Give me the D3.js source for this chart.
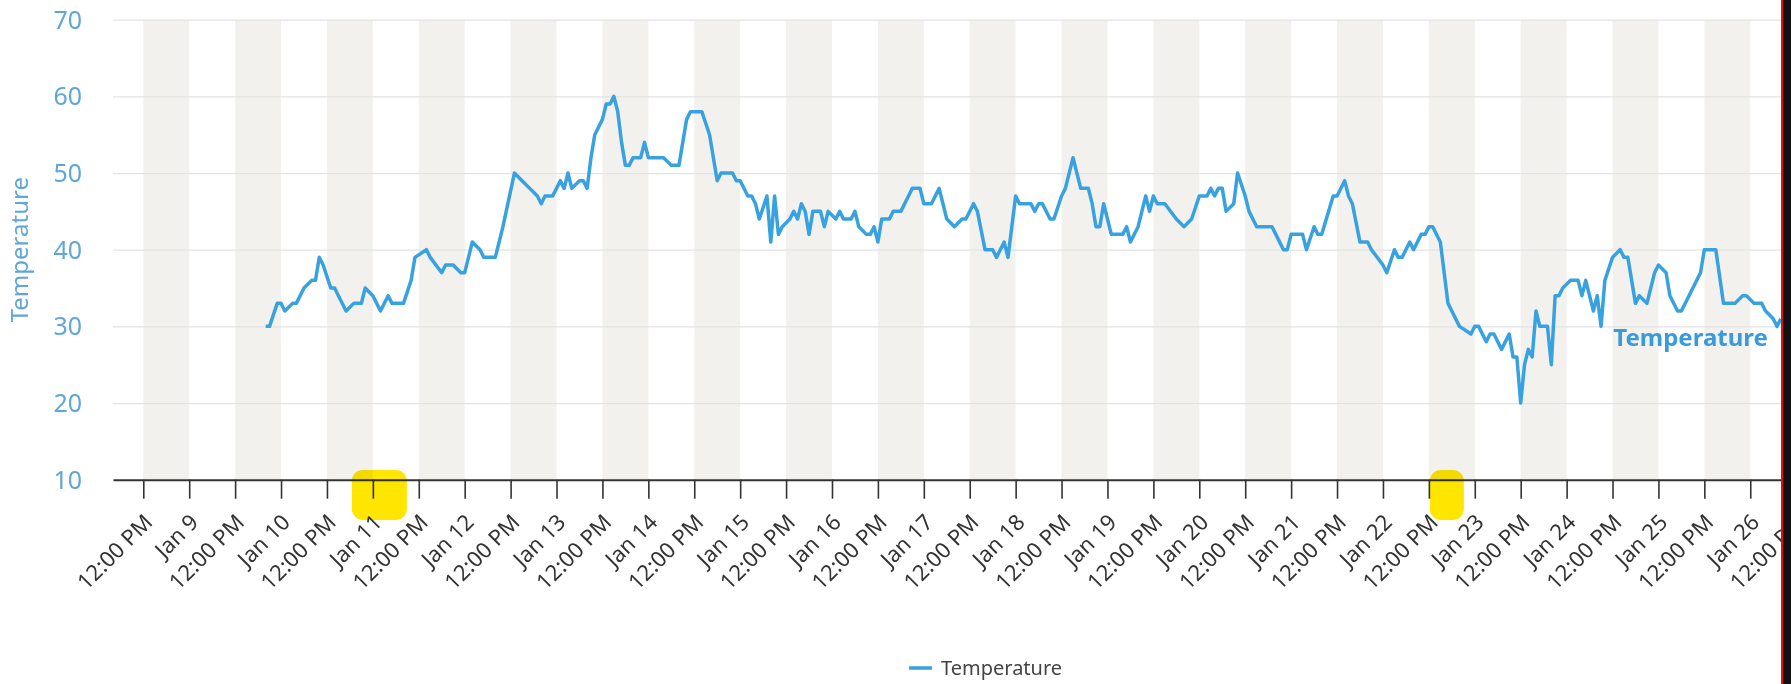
<!DOCTYPE html>
<html>
<head>
<meta charset="utf-8">
<script src="https://cdn.jsdelivr.net/npm/d3@7"></script>
<style>
  html, body { margin: 0; padding: 0; background: #fff; }
  svg { display: block; font-family: "Segoe UI", "Noto Sans", sans-serif; }
</style>
</head>
<body>
<svg id="chart" width="1791" height="684"></svg>
<script>
//数据: readings start Jan 8 12:00 PM, offsets in hours
const startTime = new Date(2023, 0, 8, 12);
const hourOffsets = [
    32, 33, 35, 36, 37, 39, 40, 42, 44, 45, 46, 47, 49, 50, 51, 53, 55, 57, 58, 60,
    62, 64, 65, 68, 70, 71, 74, 75, 78, 79, 81, 83, 84, 86, 88, 89, 92, 94, 97, 99,
    101, 103, 104, 105, 107, 108, 109, 110, 111, 112, 114, 115, 116, 117, 118, 120, 121, 122, 123, 124,
    125, 126, 127, 128, 130, 131, 132, 136, 138, 140, 142, 143, 146, 148, 150, 151, 154, 155, 156, 158,
    159, 160, 161, 163, 164, 165, 166, 167, 169, 170, 171, 172, 173, 174, 175, 177, 178, 179, 181, 182,
    183, 185, 186, 187, 189, 190, 191, 192, 193, 195, 196, 198, 200, 201, 203, 204, 206, 207, 208, 210,
    212, 214, 215, 217, 218, 220, 222, 223, 225, 226, 228, 229, 232, 233, 234, 235, 237, 238, 240, 241,
    243, 244, 245, 247, 248, 249, 250, 251, 252, 253, 256, 257, 258, 260, 262, 263, 264, 265, 267, 270,
    272, 274, 276, 278, 279, 280, 281, 282, 283, 285, 286, 288, 289, 291, 295, 296, 298, 299, 300, 303,
    304, 306, 307, 308, 311, 312, 314, 315, 316, 318, 320, 321, 324, 325, 327, 328, 329, 331, 332, 334,
    335, 336, 337, 339, 340, 341, 342, 343, 344, 347, 348, 349, 351, 352, 353, 355, 357, 358, 359, 360,
    361, 362, 363, 364, 365, 367, 368, 369, 370, 371, 373, 375, 376, 377, 378, 379, 380, 381, 382, 384,
    386, 387, 388, 390, 391, 393, 395, 396, 398, 399, 401, 402, 404, 407, 408, 411, 413, 416, 418, 419,
    421, 423, 424, 426, 427, 428
];
const temperatures = [
    30, 30, 33, 33, 32, 33, 33, 35, 36, 36, 39, 38, 35, 35, 34, 32, 33, 33, 35, 34,
    32, 34, 33, 33, 36, 39, 40, 39, 37, 38, 38, 37, 37, 41, 40, 39, 39, 43, 50, 49,
    48, 47, 46, 47, 47, 48, 49, 48, 50, 48, 49, 49, 48, 52, 55, 57, 59, 59, 60, 58,
    54, 51, 51, 52, 52, 54, 52, 52, 51, 51, 57, 58, 58, 55, 49, 50, 50, 49, 49, 47,
    47, 46, 44, 47, 41, 47, 42, 43, 44, 45, 44, 46, 45, 42, 45, 45, 43, 45, 44, 45,
    44, 44, 45, 43, 42, 42, 43, 41, 44, 44, 45, 45, 47, 48, 48, 46, 46, 47, 48, 44,
    43, 44, 44, 46, 45, 40, 40, 39, 41, 39, 47, 46, 46, 45, 46, 46, 44, 44, 47, 48,
    52, 50, 48, 48, 46, 43, 43, 46, 44, 42, 42, 43, 41, 43, 47, 45, 47, 46, 46, 44,
    43, 44, 47, 47, 48, 47, 48, 48, 45, 46, 50, 47, 45, 43, 43, 42, 40, 40, 42, 42,
    40, 43, 42, 42, 47, 47, 49, 47, 46, 41, 41, 40, 38, 37, 40, 39, 39, 41, 40, 42,
    42, 43, 43, 41, 37, 33, 32, 31, 30, 29, 30, 30, 28, 29, 29, 27, 29, 26, 26, 20,
    25, 27, 26, 32, 30, 30, 25, 34, 34, 35, 36, 36, 34, 36, 34, 32, 34, 30, 36, 39,
    40, 39, 39, 33, 34, 33, 37, 38, 37, 34, 32, 32, 34, 37, 40, 40, 33, 33, 34, 34,
    33, 33, 32, 31, 30, 31
];
const yTicks = [10, 20, 30, 40, 50, 60, 70];
const seriesName = 'Temperature';
const axisTitle = 'Temperature';

//常量
const W = 1791, H = 684;
const plotLeft = 113, plotRight = 1800, plotTop = 19.7, plotBottom = 479.7;
const lineColor = '#38a1e0';
const axisBlue = '#62a6d8';

const svg = d3.select('#chart');

const data = hourOffsets.map((h, i) => ({ t: d3.timeHour.offset(startTime, h), v: temperatures[i] }));

const x = d3.scaleTime()
    .domain([new Date(2023, 0, 8, 4, 5), new Date(2023, 0, 26, 13, 0)])
    .range([plotLeft, plotRight]);
const y = d3.scaleLinear().domain([10, 70]).range([plotBottom, plotTop]);

//背景条纹 (noon -> midnight)
const days = d3.timeDay.range(x.domain()[0], x.domain()[1]).filter(d => d > x.domain()[0]);
svg.append('g').selectAll('rect')
    .data(days)
    .join('rect')
    .attr('x', d => x(d3.timeHour.offset(d, -12)))
    .attr('width', d => x(d) - x(d3.timeHour.offset(d, -12)))
    .attr('y', plotTop)
    .attr('height', plotBottom - plotTop)
    .attr('fill', '#f3f1ee');

//网格线
svg.append('g')
    .attr('transform', `translate(${plotLeft},0)`)
    .call(d3.axisLeft(y).tickValues(yTicks.filter(v => v > 10)).tickSize(-(plotRight - plotLeft)).tickFormat(''))
    .call(g => g.select('.domain').remove())
    .call(g => g.selectAll('line').attr('stroke', '#e3e3e3').attr('stroke-width', 1.2));

//y轴标签
svg.append('g').selectAll('text')
    .data(yTicks)
    .join('text')
    .attr('x', 82)
    .attr('y', d => y(d))
    .attr('dy', '0.36em')
    .attr('text-anchor', 'end')
    .attr('fill', axisBlue)
    .attr('font-size', 25)
    .text(d => d);

svg.append('text')
    .attr('transform', `translate(28,${(plotTop + plotBottom) / 2}) rotate(-90)`)
    .attr('text-anchor', 'middle')
    .attr('fill', axisBlue)
    .attr('font-size', 24)
    .text(axisTitle);

//x轴
const tickDates = d3.timeHour.every(12).range(x.domain()[0], x.domain()[1]);
const fmtDay = d3.timeFormat('%b %-d'), fmtTime = d3.timeFormat('%-I:%M %p');
svg.append('g')
    .attr('transform', `translate(0,${plotBottom})`)
    .call(d3.axisBottom(x).tickValues(tickDates).tickSize(19).tickSizeOuter(0)
        .tickFormat(d => d.getHours() === 0 ? fmtDay(d) : fmtTime(d)))
    .call(g => g.select('.domain').attr('stroke', '#333').attr('stroke-width', 2))
    .call(g => g.selectAll('.tick line').attr('stroke', '#333').attr('stroke-width', 1.6))
    .call(g => g.selectAll('.tick text')
        .attr('y', 0).attr('dy', 0)
        .attr('transform', 'translate(10,44) rotate(-45)')
        .attr('text-anchor', 'end')
        .attr('fill', '#333')
        .attr('font-size', 22)
        .attr('font-family', '"Segoe UI", "Noto Sans", sans-serif'));

//折线
const line = d3.line().x(d => x(d.t)).y(d => y(d.v));
svg.append('path')
    .datum(data)
    .attr('d', line)
    .attr('fill', 'none')
    .attr('stroke', lineColor)
    .attr('stroke-width', 3.5)
    .attr('stroke-linejoin', 'round');

//系列标签
const last = data[data.length - 1];
svg.append('text')
    .attr('x', x(last.t) - 13)
    .attr('y', y(last.v) + 27)
    .attr('text-anchor', 'end')
    .attr('font-weight', 'bold')
    .attr('font-size', 24)
    .attr('fill', '#3a9bdc')
    .text(seriesName);

//图例
const legend = svg.append('g').attr('transform', 'translate(909,668)');
legend.append('line').attr('x1', 0).attr('x2', 23).attr('stroke', lineColor).attr('stroke-width', 3.5);
legend.append('text').attr('x', 32).attr('dy', '0.35em').attr('font-size', 20).attr('fill', '#444').text(seriesName);

//荧光笔标记
const marks = [{ t: new Date(2023, 0, 11), dx: -21, w: 55 }, { t: new Date(2023, 0, 22, 12), dx: 1, w: 34 }];
svg.append('g').selectAll('rect')
    .data(marks)
    .join('rect')
    .attr('x', d => x(d.t) + d.dx)
    .attr('y', 470)
    .attr('width', d => d.w)
    .attr('height', 50)
    .attr('rx', 11)
    .attr('fill', '#ffe600')
    .style('mix-blend-mode', 'multiply');

//右侧边框
svg.append('rect').attr('x', 1781).attr('y', 0).attr('width', 2).attr('height', H).attr('fill', '#d11');
svg.append('rect').attr('x', 1783).attr('y', 0).attr('width', W - 1783).attr('height', H).attr('fill', '#111');
</script>
</body>
</html>
